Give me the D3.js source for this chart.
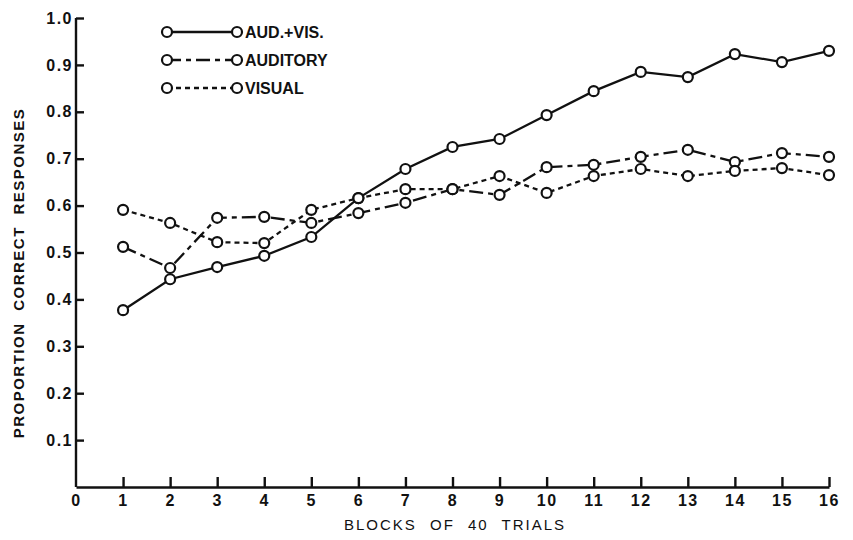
<!DOCTYPE html>
<html>
<head>
<meta charset="utf-8">
<script src="https://cdn.jsdelivr.net/npm/d3@7/dist/d3.min.js"></script>
<style>
  body { margin: 0; background: #fff; }
  svg text { font-family: "Liberation Sans", Arial, sans-serif; fill: #111; }
  .axis path, .axis line { stroke: #111; stroke-width: 2.4; }
  .axis text { font-size: 16px; font-weight: bold; letter-spacing: 1.5px; }
</style>
</head>
<body>
<div id="chart"></div>
<script>
(function () {
  // blocks of 40 trials
  const blocks = [1, 2, 3, 4, 5, 6, 7, 8, 9, 10, 11, 12, 13, 14, 15, 16];

  // proportion correct
  const audVis = [
    0.377, 0.443, 0.469, 0.493, 0.533, 0.616, 0.678, 0.725,
    0.742, 0.793, 0.844, 0.885, 0.874, 0.923, 0.906, 0.930
  ];
  const auditory = [
    0.512, 0.467, 0.574, 0.576, 0.563, 0.584, 0.606, 0.635,
    0.623, 0.682, 0.687, 0.704, 0.719, 0.693, 0.712, 0.704
  ];
  const visual = [
    0.591, 0.563, 0.522, 0.520, 0.591, 0.616, 0.635, 0.635,
    0.663, 0.627, 0.663, 0.678, 0.663, 0.674, 0.680, 0.665
  ];

  const seriesNames = ['AUD.+VIS.', 'AUDITORY', 'VISUAL'];
  const seriesDash = [null, '14,5,5,5', '5,4'];
  const yTicks = [0.1, 0.2, 0.3, 0.4, 0.5, 0.6, 0.7, 0.8, 0.9, 1.0];
  const xTicks = [0, 1, 2, 3, 4, 5, 6, 7, 8, 9, 10, 11, 12, 13, 14, 15, 16];

  const W = 853, H = 540;
  const x = d3.scaleLinear().domain([0, 16]).range([76, 829]);
  const y = d3.scaleLinear().domain([0, 1]).range([487, 18]);

  const svg = d3.select('#chart').append('svg')
    .attr('width', W)
    .attr('height', H);

  // y axis: ticks point inward, labels left
  const yAxis = svg.append('g')
    .attr('class', 'axis')
    .attr('transform', 'translate(' + x(0) + ',0)')
    .call(d3.axisLeft(y)
      .tickValues(yTicks)
      .tickFormat(d3.format('.1f'))
      .tickSizeInner(-8)
      .tickSizeOuter(0)
      .tickPadding(3));
  yAxis.select('.domain').attr('d', 'M0,' + y(0) + 'V' + y(1));

  // x axis: ticks point up
  const xAxis = svg.append('g')
    .attr('class', 'axis')
    .attr('transform', 'translate(0,' + y(0) + ')')
    .call(d3.axisBottom(x)
      .tickValues(xTicks)
      .tickFormat(d3.format('d'))
      .tickSizeInner(-10)
      .tickSizeOuter(0)
      .tickPadding(8));
  xAxis.selectAll('.tick').filter(d => d === 0).select('line').remove();

  // axis titles
  svg.append('text')
    .attr('transform', 'translate(24,' + 273 + ') rotate(-90)')
    .attr('text-anchor', 'middle')
    .style('font-size', '15px')
    .style('font-weight', 'bold')
    .style('letter-spacing', '1.5px')
    .style('word-spacing', '6px')
    .text('PROPORTION CORRECT RESPONSES');

  svg.append('text')
    .attr('x', 455)
    .attr('y', 530)
    .attr('text-anchor', 'middle')
    .style('font-size', '15px')
    .style('letter-spacing', '2px')
    .style('word-spacing', '7px')
    .text('BLOCKS OF 40 TRIALS');

  const line = d3.line()
    .x((d, i) => x(blocks[i]))
    .y(d => y(d));

  const allSeries = [audVis, auditory, visual];

  // draw lines first, circles on top
  allSeries.forEach(function (vals, k) {
    svg.append('path')
      .attr('d', line(vals))
      .attr('fill', 'none')
      .attr('stroke', '#111')
      .attr('stroke-width', 2.3)
      .attr('stroke-dasharray', seriesDash[k]);
  });

  allSeries.forEach(function (vals) {
    svg.append('g').selectAll('circle')
      .data(vals)
      .join('circle')
      .attr('cx', (d, i) => x(blocks[i]))
      .attr('cy', d => y(d))
      .attr('r', 5)
      .attr('fill', '#fff')
      .attr('stroke', '#111')
      .attr('stroke-width', 2.2);
  });

  // legend
  const legend = svg.append('g');
  seriesNames.forEach(function (name, k) {
    const ly = 32 + k * 28;
    const row = legend.append('g');
    row.append('line')
      .attr('x1', 167).attr('x2', 237)
      .attr('y1', ly).attr('y2', ly)
      .attr('stroke', '#111')
      .attr('stroke-width', 2.3)
      .attr('stroke-dasharray', seriesDash[k]);
    [167, 237].forEach(function (cx) {
      row.append('circle')
        .attr('cx', cx).attr('cy', ly).attr('r', 5)
        .attr('fill', '#fff')
        .attr('stroke', '#111')
        .attr('stroke-width', 2.2);
    });
    row.append('text')
      .attr('x', 245)
      .attr('y', ly + 6)
      .style('font-size', '16px')
      .style('font-weight', 'bold')
      .text(name);
  });
})();
</script>
</body>
</html>
